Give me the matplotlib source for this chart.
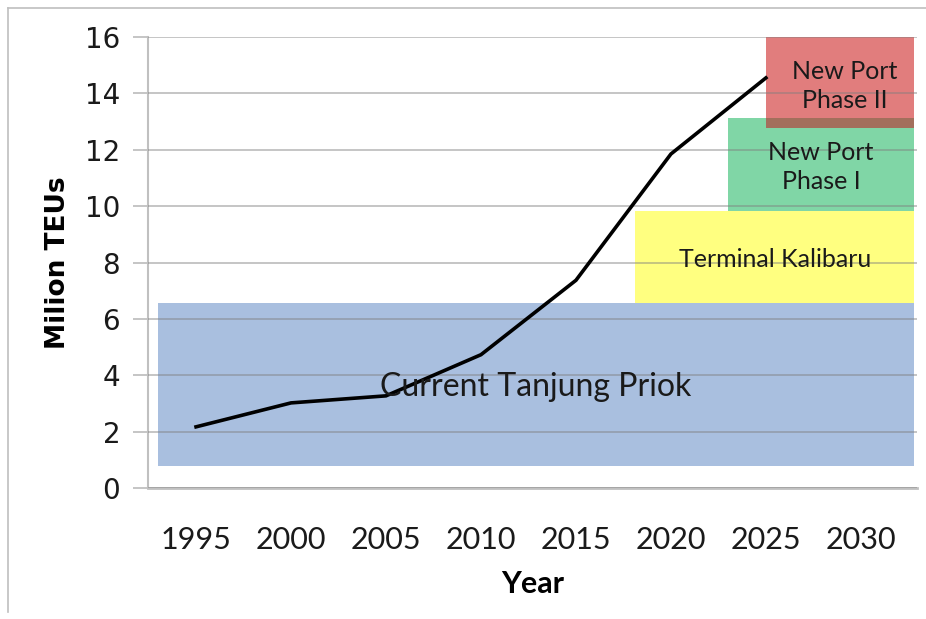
import matplotlib.pyplot as plt
from matplotlib.patches import Rectangle
from matplotlib.lines import Line2D

years = [1995, 2000, 2005, 2010, 2015, 2020, 2025]
teus = [2.17, 3.02, 3.27, 4.73, 7.37, 11.85, 14.55]
tick_years = [1995, 2000, 2005, 2010, 2015, 2020, 2025, 2030]

# capacity blocks: label, x start, x end, y bottom, y top, colour
zones = [
    ("Current Tanjung Priok", 1993.0, 2032.8, 0.78, 6.55, "#a9bfdf"),
    ("Terminal Kalibaru", 2018.1, 2032.8, 6.55, 9.82, "#ffff80"),
    ("New Port\nPhase I", 2023.0, 2032.8, 9.82, 13.13, "#80d6a6"),
    ("New Port\nPhase II", 2025.0, 2032.8, 12.78, 16.0, "#e17d7d"),
]

fig = plt.figure(figsize=(9.26, 6.19), dpi=100)
ax = fig.add_axes([0.1598, 0.2116, 0.8304, 0.7286])

for label, x0, x1, y0, y1, col in zones:
    ax.add_patch(Rectangle((x0, y0), x1 - x0, y1 - y0, facecolor=col,
                           edgecolor="none", zorder=1))

# darker strip where phase II overlaps phase I
ph1, ph2 = zones[2], zones[3]
ax.add_patch(Rectangle((ph2[1], ph2[3]), ph2[2] - ph2[1], ph1[4] - ph2[3],
                       facecolor="#a36f5c", edgecolor="none", zorder=1.5))

ax.set_ylim(0, 16)
ax.set_xlim(1992.47, 2032.95)
ax.set_yticks(range(0, 17, 2))
ax.set_xticks(tick_years)
ax.yaxis.grid(True, color="#7f7f7f", alpha=0.45, linewidth=1.4, zorder=2)
ax.set_axisbelow(False)

for s in ["top", "right"]:
    ax.spines[s].set_visible(False)
ax.spines["left"].set_color("#c0c0c0")
ax.spines["bottom"].set_color("#c0c0c0")
ax.spines["left"].set_linewidth(1.5)
ax.spines["bottom"].set_linewidth(2)
ax.spines["left"].set_zorder(0.5)
ax.tick_params(axis="y", length=11, color="#c0c0c0", width=1.3, pad=9,
               labelsize=20, labelcolor="#1a1a1a")
ax.tick_params(axis="x", length=0, pad=27, labelsize=22, labelcolor="#1a1a1a")
for t in ax.get_xticklabels():
    t.set_family("Lato")

ax.plot(years, teus, color="black", linewidth=2.6, zorder=4,
        solid_joinstyle="miter")

# zone labels
label_pos = [(2012.9, 3.58, 23), (2025.5, 8.09, 18), (2027.9, 11.39, 18),
             (2029.15, 14.26, 18)]
for (label, x0, x1, y0, y1, col), (lx, ly, fs) in zip(zones, label_pos):
    ax.text(lx, ly, label, ha="center", va="center", fontsize=fs,
            family="Lato", color="#1a1a1a", zorder=5, linespacing=1.3)

ax.set_xlabel("Year", fontsize=22, fontweight="bold", family="Lato",
              labelpad=12)
ax.set_ylabel("Milion TEUs", fontsize=19, fontweight="bold", labelpad=10)

# thin frame around the picture
fig.add_artist(Line2D([8 / 926, 8 / 926], [1 - 612 / 619, 1 - 8 / 619],
                      color="#bfbfbf", linewidth=1.2))
fig.add_artist(Line2D([8 / 926, 1.0], [1 - 8 / 619, 1 - 8 / 619],
                      color="#bfbfbf", linewidth=1.2))

fig.savefig("out.png", dpi=100)
